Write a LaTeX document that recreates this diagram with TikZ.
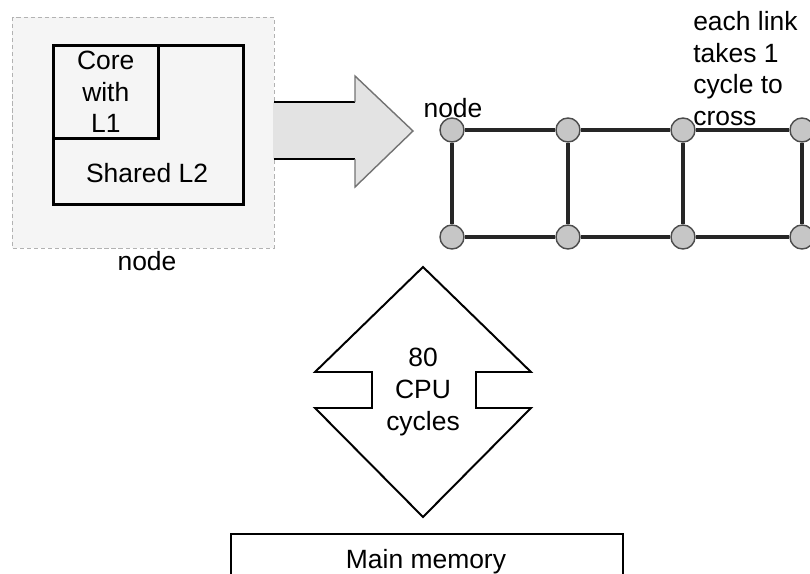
\documentclass[tikz,border=0pt]{standalone}
\usepackage{fontspec}
\setmainfont{Liberation Sans}
\begin{document}
\begin{tikzpicture}[x=0.025cm, y=-0.025cm, font=\fontsize{18.8}{22.5}\selectfont]
  \tikzset{
    box/.style={draw, line width=1.8pt, anchor=north west, inner sep=0pt},
    meshnode/.style={circle, draw=black!70, line width=1pt, fill=gray!45, minimum size=0.6cm, inner sep=0pt},
    link/.style={line width=2.2pt, black!85},
    lbl/.style={inner sep=0pt, align=center}
  }
  \useasboundingbox (0,0) rectangle (810,573);

  % node with its cache and the arrow out of it
  \draw[gray!60, densely dashed, fill=gray!8] (12,17) rectangle (274,248);
  \fill[gray!22] (273,102) -- (355,102) -- (355,76) -- (413,131) -- (355,187) -- (355,159) -- (273,159) -- cycle;
  \draw[line width=1.4pt] (274,102) -- (355,102);
  \draw[line width=1.4pt] (274,159) -- (355,159);
  \draw[black!55, line width=1pt] (355,102) -- (355,76) -- (413,131) -- (355,187) -- (355,159);

  \node[box, minimum width=4.75cm, minimum height=3.975cm] (shared) at (52,44) {};
  \node[box, minimum width=2.625cm, minimum height=2.325cm, align=center] (core) at (52,44) {Core\\with\\L1};
  \node[lbl] (l2) at (147,173) {Shared L2};
  \node[lbl] (nodelbl) at (147,261) {node};

  % mesh of nodes
  \foreach \i/\x in {1/452, 2/568, 3/683, 4/802} {
    \node[meshnode] (t\i) at (\x,130) {};
    \node[meshnode] (b\i) at (\x,237) {};
  }
  \draw[link] (t1) -- (t2) -- (t3) -- (t4);
  \draw[link] (b1) -- (b2) -- (b3) -- (b4);
  \foreach \i in {1,...,4}
    \draw[link] (t\i) -- (b\i);

  \node[lbl] (meshlbl) at (453,108) {node};
  \node[inner sep=0pt, align=left, anchor=north west] (linklbl) at (693,11) {each link\\takes 1\\cycle to\\cross};

  % transfer to memory
  \draw[line width=1.4pt, fill=white] (315,372) -- (423,267) -- (531,372) -- (476,372) -- (476,408) -- (531,408)
    -- (423,517) -- (315,408) -- (372,408) -- (372,372) -- cycle;
  \node[lbl] (cycles) at (423,392) {80\\CPU\\cycles};

  \node[box, line width=1.4pt, minimum width=9.8cm, minimum height=2cm] (mem) at (230,533) {};
  \node[lbl] (memlbl) at (426,562) {Main memory};
\end{tikzpicture}
\end{document}
